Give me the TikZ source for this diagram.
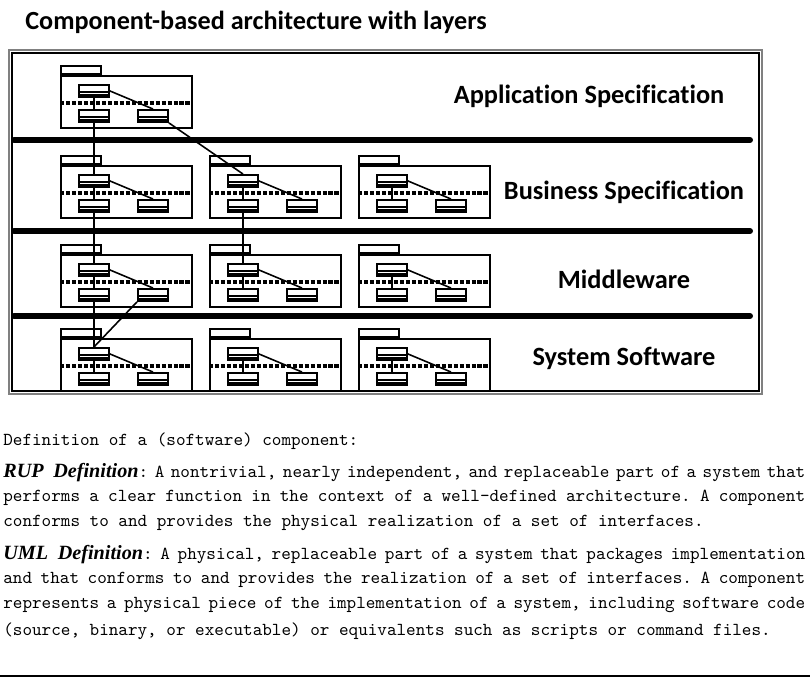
\documentclass[tikz,border=0pt]{standalone}
\usepackage{fontspec}
\usepackage{tikz}
\usetikzlibrary{positioning}
\newfontfamily\headfont[Ligatures=NoCommon]{Carlito}
\newfontfamily\deffont{Liberation Serif}
\newcommand{\defhead}{\deffont\bfseries\itshape\fontsize{11.5}{12}\selectfont}

\begin{document}
\begin{tikzpicture}[
  x=0.02cm, y=-0.02cm,
  pkg/.style={draw, line width=1.1pt, minimum width=2.62cm, minimum height=1.04cm, inner sep=0pt, anchor=north west},
  tab/.style={draw, line width=1.1pt, minimum width=0.8cm, minimum height=0.16cm, inner sep=0pt, anchor=south west},
  comp/.style={draw, line width=1.1pt, minimum width=0.6cm, minimum height=0.24cm, inner sep=0pt,
    path picture={\draw[line width=1.1pt]
      ([yshift=-0.03cm]path picture bounding box.west) -- ([yshift=-0.03cm]path picture bounding box.east)
      ([yshift=-0.08cm]path picture bounding box.west) -- ([yshift=-0.08cm]path picture bounding box.east);}},
  divider/.style={line width=2pt, dash pattern=on 2.4pt off 1pt},
  link/.style={line width=0.9pt},
  bar/.style={line width=3.4pt, line cap=round},
  layer/.style={font={\headfont\bfseries\fontsize{15}{18}\selectfont}},
  deftxt/.style={anchor=west, inner sep=0pt,
    font={\fontsize{10.4}{12}\ttfamily\frenchspacing\spaceskip=0.525em plus 0.3em minus 0.3em}}
]
  \useasboundingbox (0,0) rectangle (810,678);

  \node[anchor=west, inner sep=0pt, font={\headfont\bfseries\fontsize{14.9}{18}\selectfont}] (title) at (25,22)
    {Component-based architecture with layers};

  % frame and layer bars
  \draw[gray, line width=0.8pt] (9,50) rectangle (762,394);
  \draw[line width=0.8pt] (12,53) rectangle (759,391);
  \draw[bar] (14,140) -- (750,140);
  \draw[bar] (14,231) -- (750,231);
  \draw[bar] (14,316) -- (750,316);

  % packages
  \foreach \n/\x/\y in {a/60/75, b1/60/165, b2/209/165, b3/358/165,
                        m1/60/254, m2/209/254, m3/358/254,
                        s1/60/338, s2/209/338, s3/358/338} {
    \node[pkg] (\n) at (\x,\y) {};
    \node[tab] (\n-tab) at (\n.north west) {};
    \draw[divider] ([yshift=-0.56cm]\n.north west) -- ([yshift=-0.56cm]\n.north east);
    \node[comp, below right=0.18cm and 0.36cm of \n.north west] (\n-u) {};
    \node[comp, below right=0.68cm and 0.36cm of \n.north west] (\n-l) {};
    \node[comp, below right=0.68cm and 1.54cm of \n.north west] (\n-r) {};
    \draw[link] (\n-u) -- (\n-l);
    \draw[link] (\n-u.east) -- (\n-r.north);
  }

  % dependencies between layers
  \draw[link] (a-l) -- (b1-u);
  \draw[link] (a-r.south east) -- (b2-u.north);
  \draw[link] (b1-l) -- (m1-u);
  \draw[link] (b2-l) -- (m2-u);
  \draw[link] (m1-l) -- (s1-u);
  \draw[link] (m1-r.south west) -- (s1-u.north);

  \node[layer] (app) at (589,96) {Application Specification};
  \node[layer] (bus) at (624,192) {Business Specification};
  \node[layer] (mid) at (624,279) {Middleware};
  \node[layer] (sys) at (624,358) {System Software};

  % definitions
  \node[deftxt] (d0) at (3,441) {Definition of a (software) component:};
  \node[deftxt] (d1) at (3,473) {\makebox[16.04cm][s]{\mbox{\defhead RUP Definition}: A nontrivial, nearly independent, and replaceable part of a system that}};
  \node[deftxt] (d2) at (3,498) {\makebox[16.04cm][s]{performs a clear function in the context of a well-defined architecture. A component}};
  \node[deftxt] (d3) at (3,523) {conforms to and provides the physical realization of a set of interfaces.};
  \node[deftxt] (d4) at (3,555) {\makebox[16.04cm][s]{\mbox{\defhead UML Definition}: A physical, replaceable part of a system that packages implementation}};
  \node[deftxt] (d5) at (3,580) {\makebox[16.04cm][s]{and that conforms to and provides the realization of a set of interfaces. A component}};
  \node[deftxt] (d6) at (3,605) {\makebox[16.04cm][s]{represents a physical piece of the implementation of a system, including software code}};
  \node[deftxt] (d7) at (3,631) {(source, binary, or executable) or equivalents such as scripts or command files.};

  \draw[line width=0.8pt] (0,676) -- (810,676);
\end{tikzpicture}
\end{document}
